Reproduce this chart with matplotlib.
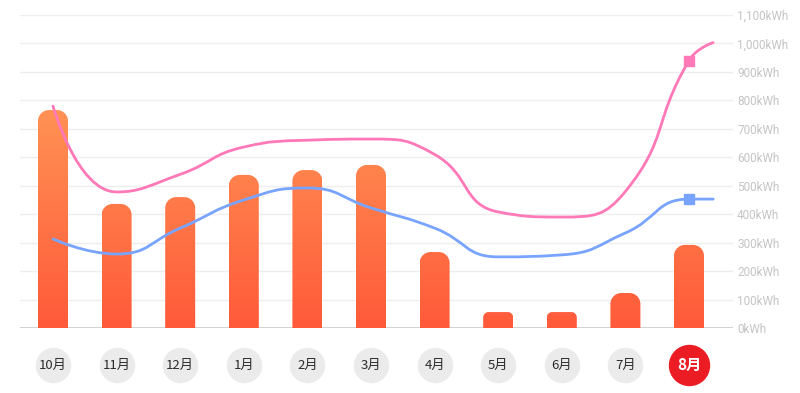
import numpy as np
import matplotlib
matplotlib.use('Agg')
from matplotlib import pyplot as plt
from matplotlib.path import Path
from matplotlib.patches import PathPatch
from matplotlib.ticker import FuncFormatter
from matplotlib.colors import LinearSegmentedColormap
import matplotlib.transforms as mtransforms

plt.rcParams['font.family'] = ['Noto Sans CJK SC', 'DejaVu Sans']

months = ['10月', '11月', '12月', '1月', '2月', '3月', '4月', '5月', '6月', '7月', '8月']
usage = [766, 436, 460, 538, 555, 573, 267, 56, 56, 123, 292]
pink_line = [780, 478, 540, 636, 660, 664, 610, 408, 390, 480, 940]
blue_line = [313, 260, 351, 450, 492, 422, 351, 250, 257, 334, 453]
# the lines run on a little past the last month
tail_x = 10.38
pink_tail = 1003
blue_tail = 453
current = 10

W, H = 800, 393
fig = plt.figure(figsize=(W / 100, H / 100), dpi=100)
ax_left, ax_right, ax_bottom, ax_top = 20, 733, 328, 15
ax = fig.add_axes([ax_left / W, 1 - ax_bottom / H, (ax_right - ax_left) / W, (ax_bottom - ax_top) / H])

x0 = (ax_left - 53) / 63.6
x1 = (ax_right - 53) / 63.6
ax.set_xlim(x0, x1)
ax.set_ylim(0, 1100)

px_x = (ax_right - ax_left) / (x1 - x0)
px_y = (ax_bottom - ax_top) / 1100


def kwh_formatter(v, pos):
    return f'{v:,.0f}kWh'


ax.set_yticks(np.arange(0, 1101, 100))
ax.yaxis.set_major_formatter(FuncFormatter(kwh_formatter))
ax.yaxis.tick_right()
ax.tick_params(axis='y', length=0, pad=3, labelsize=8.5, labelcolor='#C4C4C4')
for t in ax.get_yticklabels():
    t.set_fontfamily('Roboto')
ax.set_xticks([])
ax.grid(axis='y', color='#EEEEEE', lw=1)
ax.set_axisbelow(True)
for s in ax.spines.values():
    s.set_visible(False)
ax.axhline(0, color='#CCCCCC', lw=1.2, zorder=1)

# bars with a shared vertical gradient and rounded tops
cmap = LinearSegmentedColormap.from_list('bar', ['#FF5A3A', '#FF9455'])
grad = np.linspace(0, 1, 256).reshape(-1, 1)
bw = 30 / px_x
for i, v in enumerate(usage):
    r_px = min(11, v * px_y / 3)
    rx, ry = r_px / px_x, r_px / px_y
    l, r = i - bw / 2, i + bw / 2
    k = 0.5523
    verts = [(l, 0), (l, v - ry),
             (l, v - ry + k * ry), (l + rx - k * rx, v), (l + rx, v),
             (r - rx, v),
             (r - rx + k * rx, v), (r, v - ry + k * ry), (r, v - ry),
             (r, 0), (l, 0)]
    codes = [Path.MOVETO, Path.LINETO,
             Path.CURVE4, Path.CURVE4, Path.CURVE4,
             Path.LINETO,
             Path.CURVE4, Path.CURVE4, Path.CURVE4,
             Path.LINETO, Path.CLOSEPOLY]
    patch = PathPatch(Path(verts, codes), facecolor='none', edgecolor='none')
    ax.add_patch(patch)
    im = ax.imshow(grad, cmap=cmap, origin='lower', aspect='auto',
                   extent=(l, r, 0, 800), zorder=2)
    im.set_clip_path(patch)

ax.set_xlim(x0, x1)
ax.set_ylim(0, 1100)


def smooth_path(xs, ys, smooth=0.5):
    # bezier smoothing in pixel space, control points clamped between neighbours
    px = np.asarray(xs, float) * px_x
    py = np.asarray(ys, float) * px_y
    n = len(px)
    verts = [(px[0], py[0])]
    codes = [Path.MOVETO]
    cp_out = [None] * n
    cp_in = [None] * n
    for j in range(n):
        if j == 0 or j == n - 1:
            cp_out[j] = (px[j], py[j])
            cp_in[j] = (px[j], py[j])
            continue
        dx, dy = px[j + 1] - px[j - 1], py[j + 1] - py[j - 1]
        l0 = np.hypot(px[j] - px[j - 1], py[j] - py[j - 1])
        l1 = np.hypot(px[j + 1] - px[j], py[j + 1] - py[j])
        ratio = l1 / (l0 + l1)
        ox = px[j] + dx * smooth * ratio
        oy = py[j] + dy * smooth * ratio
        ox = min(ox, max(px[j + 1], px[j])); ox = max(ox, min(px[j + 1], px[j]))
        oy = min(oy, max(py[j + 1], py[j])); oy = max(oy, min(py[j + 1], py[j]))
        dx = ox - px[j]; dy = oy - py[j]
        ix = px[j] - dx * l0 / l1
        iy = py[j] - dy * l0 / l1
        ix = min(ix, max(px[j - 1], px[j])); ix = max(ix, min(px[j - 1], px[j]))
        iy = min(iy, max(py[j - 1], py[j])); iy = max(iy, min(py[j - 1], py[j]))
        dx = px[j] - ix; dy = py[j] - iy
        ox = px[j] + dx * l1 / l0
        oy = py[j] + dy * l1 / l0
        cp_in[j] = (ix, iy)
        cp_out[j] = (ox, oy)
    for j in range(n - 1):
        verts += [cp_out[j], cp_in[j + 1], (px[j + 1], py[j + 1])]
        codes += [Path.CURVE4] * 3
    verts = [(a / px_x, b / px_y) for a, b in verts]
    return Path(verts, codes)


idx = list(range(len(months)))
for vals, tail, color in [(pink_line, pink_tail, '#FF78B8'), (blue_line, blue_tail, '#78A4FF')]:
    path = smooth_path(idx + [tail_x], vals + [tail])
    ax.add_patch(PathPatch(path, facecolor='none', edgecolor=color, lw=2, zorder=3,
                           capstyle='round'))
    ax.plot(current, vals[current], marker='s', ms=6.5, color=color, zorder=4)

# month labels in circles under the axis
trans = mtransforms.blended_transform_factory(ax.transData, fig.transFigure)
cy = 1 - 365 / H
for i, m in enumerate(months):
    if i == current:
        ax.scatter(i, cy, s=(40 * 0.72) ** 2, color='#EB1C24', transform=trans, clip_on=False, zorder=5)
        ax.text(i, cy, m, transform=trans, ha='center', va='center', fontsize=11,
                fontweight='bold', color='white', zorder=6)
    else:
        ax.scatter(i, cy, s=(34 * 0.72) ** 2, color='#EBEBEB', transform=trans, clip_on=False, zorder=5)
        ax.text(i, cy, m, transform=trans, ha='center', va='center', fontsize=9.5,
                fontweight='medium', color='#2B2B2B', zorder=6)

fig.savefig('out.png', dpi=100)
